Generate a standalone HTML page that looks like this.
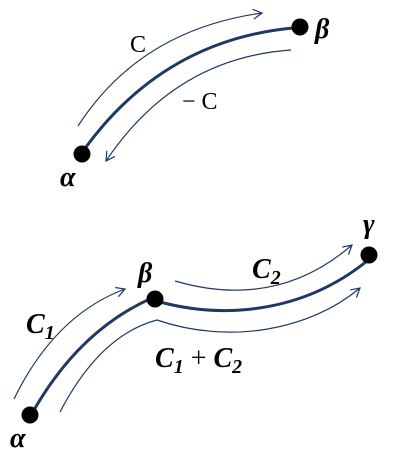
<!DOCTYPE html>
<html><head><meta charset="utf-8"><style>
html,body{margin:0;padding:0;background:#fff;width:400px;height:457px;overflow:hidden}
text{font-family:"Liberation Serif","DejaVu Serif",serif;fill:#000}
.b{font-weight:bold;font-style:italic}
</style></head><body>
<svg width="400" height="457" viewBox="0 0 400 457">
<defs><marker id="ah" markerWidth="12" markerHeight="12" refX="9" refY="5" orient="auto" markerUnits="userSpaceOnUse">
<path d="M0,0 L9,5 L0,10" fill="none" stroke="#1f3864" stroke-width="1.2"/></marker></defs>
<g>
<path d="M86,147 Q165,40 293,28" fill="none" stroke="#1f3864" stroke-width="3"/>
<path d="M78,126 Q140,30 262,13" fill="none" stroke="#1f3864" stroke-width="1.2" marker-end="url(#ah)"/>
<path d="M291,50 Q175,58 106,161" fill="none" stroke="#1f3864" stroke-width="1.2" marker-end="url(#ah)"/>
<circle cx="82" cy="154" r="8.5" fill="#000"/>
<circle cx="300" cy="27" r="8.5" fill="#000"/>
<text x="130" y="52" font-size="24">C</text>
<text x="182" y="109" font-size="24">− C</text>
<text class="b" x="60" y="186" font-size="28">α</text>
<text class="b" x="315" y="38" font-size="28">β</text>
</g>
<g>
<path d="M34,410 Q80,330 152,298" fill="none" stroke="#1f3864" stroke-width="3"/>
<path d="M160,302 C220,318 300,315 367,261" fill="none" stroke="#1f3864" stroke-width="3"/>
<path d="M14,399 Q55,315 125,289" fill="none" stroke="#1f3864" stroke-width="1.2" marker-end="url(#ah)"/>
<path d="M175,281 C240,300 300,290 352,245" fill="none" stroke="#1f3864" stroke-width="1.2" marker-end="url(#ah)"/>
<path d="M60,412 Q100,335 157,320 C230,345 310,330 360,288" fill="none" stroke="#1f3864" stroke-width="1.2" marker-end="url(#ah)"/>
<circle cx="30" cy="415" r="8.5" fill="#000"/>
<circle cx="155" cy="299" r="8.5" fill="#000"/>
<circle cx="369" cy="255" r="8.5" fill="#000"/>
<text class="b" x="26" y="333" font-size="28">C<tspan font-size="20" dy="6">1</tspan></text>
<text class="b" x="252" y="278" font-size="28">C<tspan font-size="20" dy="6">2</tspan></text>
<text class="b" x="155" y="367" font-size="28">C<tspan font-size="20" dy="6">1</tspan><tspan dy="-6" font-style="normal" font-weight="normal"> + </tspan>C<tspan font-size="20" dy="6">2</tspan></text>
<text class="b" x="10" y="447" font-size="28">α</text>
<text class="b" x="138" y="282" font-size="28">β</text>
<text class="b" x="363" y="233" font-size="28">γ</text>
</g>
</svg>
</body></html>
